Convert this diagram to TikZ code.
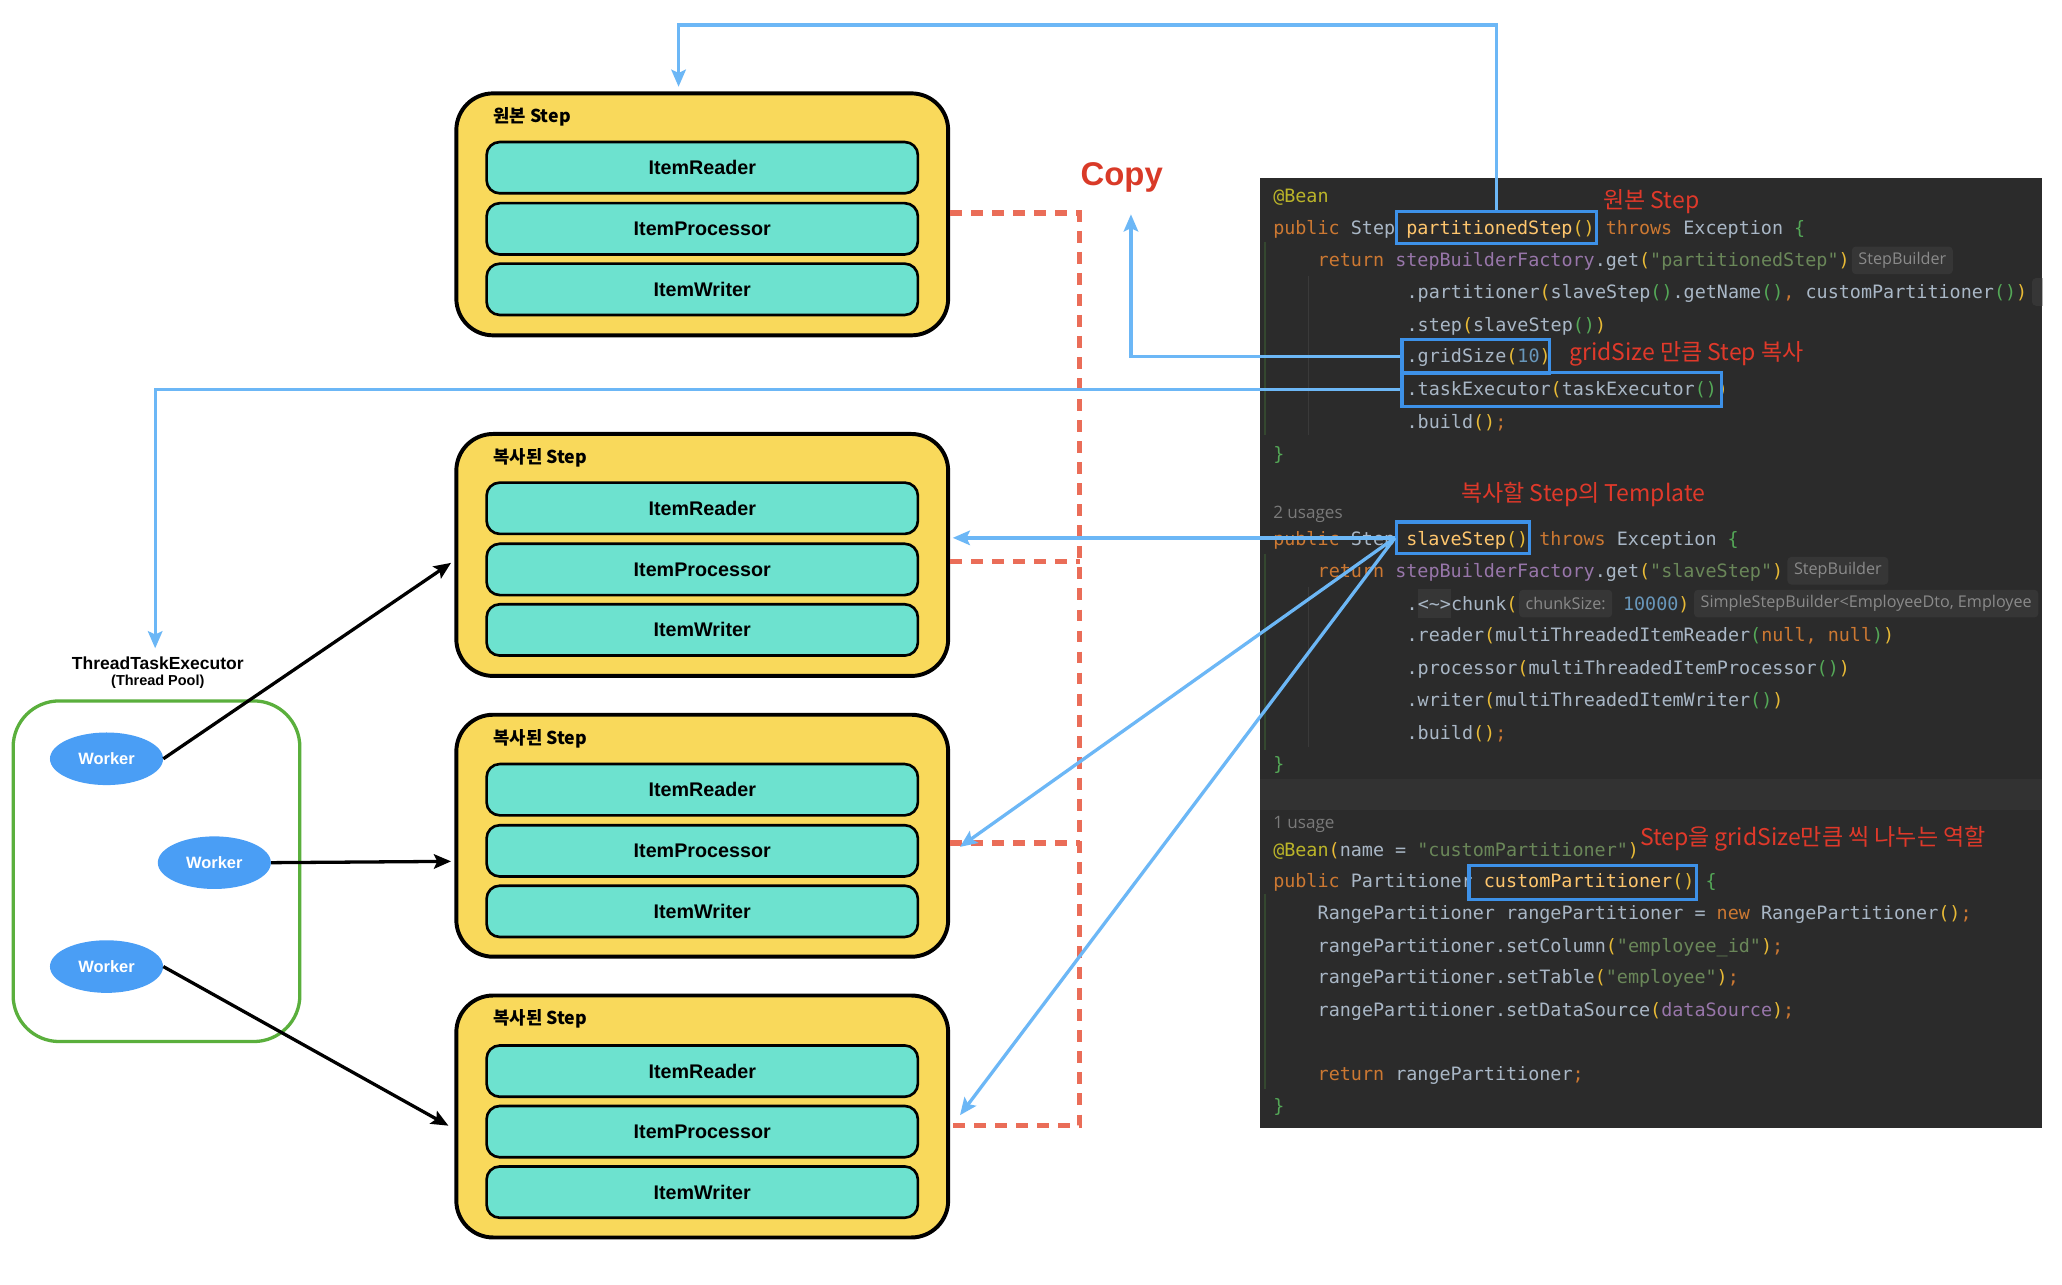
\documentclass[tikz,border=0pt]{standalone}
\usepackage{fontspec}
\setmainfont{Liberation Sans}
\newfontfamily\kr{Noto Sans CJK KR}
\newfontfamily\cf{DejaVu Sans Mono}[Ligatures=TeXOff,WordSpace={1,0,0}]
\newfontfamily\hf{Open Sans}
\usetikzlibrary{arrows.meta,shapes.geometric}

\definecolor{stepyellow}{HTML}{F9D95B}
\definecolor{itemteal}{HTML}{6DE2CF}
\definecolor{workerblue}{HTML}{4A9EF5}
\definecolor{poolgreen}{HTML}{5AAF3C}
\definecolor{lineblue}{HTML}{6CB7F6}
\definecolor{hlblue}{HTML}{3D91E8}
\definecolor{annored}{HTML}{E0392A}
\definecolor{copyred}{HTML}{D93A28}
\definecolor{dashred}{HTML}{EA6D58}
\definecolor{panelbg}{HTML}{2B2B2B}
\definecolor{panelband}{HTML}{323232}
\definecolor{cdef}{HTML}{A9B7C6}
\definecolor{ckw}{HTML}{CC7832}
\definecolor{cstr}{HTML}{6A8759}
\definecolor{cnum}{HTML}{6897BB}
\definecolor{cmeth}{HTML}{FFC66D}
\definecolor{cann}{HTML}{BBB529}
\definecolor{cfld}{HTML}{9876AA}
\definecolor{cpy}{HTML}{E8BA36}
\definecolor{cpg}{HTML}{54A857}
\definecolor{hintbg}{HTML}{363636}
\definecolor{hintfg}{HTML}{8A8A8A}
\definecolor{usagefg}{HTML}{7A7A7A}
\definecolor{guidegreen}{HTML}{34472F}
\definecolor{guidegrey}{HTML}{3A3A3A}

\newcommand{\ccK}[1]{\textcolor{ckw}{#1}}
\newcommand{\ccS}[1]{\textcolor{cstr}{#1}}
\newcommand{\ccN}[1]{\textcolor{cnum}{#1}}
\newcommand{\ccM}[1]{\textcolor{cmeth}{#1}}
\newcommand{\ccA}[1]{\textcolor{cann}{#1}}
\newcommand{\ccP}[1]{\textcolor{cfld}{#1}}
\newcommand{\ccY}[1]{\textcolor{cpy}{#1}}
\newcommand{\ccG}[1]{\textcolor{cpg}{#1}}

\begin{document}
\begin{tikzpicture}[x=1pt,y=-1pt,
  stepbox/.style={draw=black, line width=3pt, fill=stepyellow, rounded corners=28pt, minimum width=374pt, minimum height=184pt, inner sep=0},
  itembox/.style={draw=black, line width=2pt, fill=itemteal, rounded corners=10pt, minimum width=328pt, minimum height=39pt, inner sep=0, font=\bfseries\fontsize{15}{18}\selectfont},
  steplabel/.style={anchor=west, inner sep=0, font=\kr\bfseries\fontsize{13.5}{16}\selectfont},
  poolbox/.style={draw=poolgreen, line width=2.5pt, rounded corners=35pt, minimum width=218pt, minimum height=259pt, inner sep=0},
  worker/.style={ellipse, fill=workerblue, minimum width=86pt, minimum height=40pt, inner sep=0, text=white, font=\bfseries\fontsize{12.5}{15}\selectfont},
  codeline/.style={anchor=base west, inner sep=0, text=cdef, font=\cf\fontsize{14}{16}\selectfont},
  hint/.style={anchor=west, fill=hintbg, rounded corners=3pt, text=hintfg, minimum height=21pt, inner xsep=5pt, inner ysep=0, font=\hf\fontsize{12.3}{15}\selectfont},
  usage/.style={anchor=base west, inner sep=0, text=usagefg, font=\hf\fontsize{13}{15}\selectfont},
  hl/.style={draw=hlblue, line width=2.5pt, inner sep=0},
  redtxt/.style={anchor=west, inner sep=0, text=annored, font=\kr\fontsize{17.5}{20}\selectfont},
  blueline/.style={draw=lineblue, line width=2.5pt},
  bluearrow/.style={blueline, -{Stealth[length=13pt,width=11pt,inset=2.5pt]}},
  blackarrow/.style={draw=black, line width=2.5pt, -{Stealth[length=13pt,width=11pt,inset=2.5pt]}},
  reddash/.style={draw=dashred, line width=4pt, dash pattern=on 9pt off 7pt}
]
\useasboundingbox (0,0) rectangle (1568,976.4);
\fill[white] (0,0) rectangle (1568,976.4);

% ---------- code panel ----------
\fill[panelbg] (958,135) rectangle (1553,858);
\fill[panelband] (958,592) rectangle (1553,616);
\draw[guidegreen, line width=1pt] (962,184) -- (962,331);
\draw[guidegrey, line width=1pt] (995,210) -- (995,331);
\draw[guidegreen, line width=1pt] (962,421) -- (962,570);
\draw[guidegrey, line width=1pt] (995,446) -- (995,568);
\draw[guidegreen, line width=1pt] (962,680) -- (962,828);

\begin{scope}
\clip (958,135) rectangle (1553,858);
\node[hint] (h1) at (1408,198) {StepBuilder};
\node[hint, minimum width=30pt] (h2) at (1545,222) {};
\node[hint] (h3) at (1359,434) {StepBuilder};
\node[hint] (h4) at (1155,459) {chunkSize:};
\node[hint] (h5) at (1288,459) {SimpleStepBuilder<EmployeeDto, Employee};
\end{scope}

\node[codeline] (l1) at (968,154) {\ccA{@Bean}};
\node[codeline] (l2) at (968,178) {\ccK{public} Step \ccM{partitionedStep}\ccY{()} \ccK{throws} Exception \ccG{\{}};
\node[codeline] (l3) at (1001.8,203) {\ccK{return} \ccP{stepBuilderFactory}.get\ccY{(}\ccS{"partitionedStep"}\ccY{)}};
\node[codeline] (l4) at (1069.4,227) {.partitioner\ccY{(}slaveStep\ccG{()}.getName\ccG{()}\ccK{,} customPartitioner\ccG{()}\ccY{)}};
\node[codeline] (l5) at (1069.4,252) {.step\ccY{(}slaveStep\ccG{()}\ccY{)}};
\node[codeline] (l6) at (1069.4,276) {.gridSize\ccY{(}\ccN{10}\ccY{)}};
\node[codeline] (l7) at (1069.4,301) {.taskExecutor\ccY{(}taskExecutor\ccG{()}\ccY{)}};
\node[codeline] (l8) at (1069.4,326) {.build\ccY{()}\ccK{;}};
\node[codeline] (l9) at (968,350) {\ccG{\}}};

\node[usage] (u1) at (968,394) {2 usages};
\node[codeline] (l10) at (968,415) {\ccK{public} Step \ccM{slaveStep}\ccY{()} \ccK{throws} Exception \ccG{\{}};
\node[codeline] (l11) at (1001.8,439) {\ccK{return} \ccP{stepBuilderFactory}.get\ccY{(}\ccS{"slaveStep"}\ccY{)}};
\node[codeline] (l12a) at (1069.4,464) {.};
\node[fill=hintbg, minimum width=25pt, minimum height=22pt, inner sep=0, anchor=west] (fold) at (1077.9,459) {};
\node[codeline] (l12b) at (1077.9,464) {<\textasciitilde>};
\node[codeline] (l12c) at (1103.2,464) {chunk\ccY{(}};
\node[codeline] (l12d) at (1234,464) {\ccN{10000}\ccY{)}};
\node[codeline] (l13) at (1069.4,488) {.reader\ccY{(}multiThreadedItemReader\ccG{(}\ccK{null}\ccK{,} \ccK{null}\ccG{)}\ccY{)}};
\node[codeline] (l14) at (1069.4,513) {.processor\ccY{(}multiThreadedItemProcessor\ccG{()}\ccY{)}};
\node[codeline] (l15) at (1069.4,537) {.writer\ccY{(}multiThreadedItemWriter\ccG{()}\ccY{)}};
\node[codeline] (l16) at (1069.4,562) {.build\ccY{()}\ccK{;}};
\node[codeline] (l17) at (968,586) {\ccG{\}}};

\node[usage] (u2) at (968,630) {1 usage};
\node[codeline] (l18) at (968,651) {\ccA{@Bean}\ccY{(}name = \ccS{"customPartitioner"}\ccY{)}};
\node[codeline] (l19) at (968,675) {\ccK{public} Partitioner \ccM{customPartitioner}\ccY{()} \ccG{\{}};
\node[codeline] (l20) at (1001.8,699) {RangePartitioner rangePartitioner = \ccK{new} RangePartitioner\ccY{()}\ccK{;}};
\node[codeline] (l21) at (1001.8,724) {rangePartitioner.setColumn\ccY{(}\ccS{"employee\_id"}\ccY{)}\ccK{;}};
\node[codeline] (l22) at (1001.8,748) {rangePartitioner.setTable\ccY{(}\ccS{"employee"}\ccY{)}\ccK{;}};
\node[codeline] (l23) at (1001.8,773) {rangePartitioner.setDataSource\ccY{(}\ccP{dataSource}\ccY{)}\ccK{;}};
\node[codeline] (l24) at (1001.8,822) {\ccK{return} rangePartitioner\ccK{;}};
\node[codeline] (l25) at (968,846) {\ccG{\}}};

% highlight boxes
\node[hl, minimum width=152pt, minimum height=24pt] (pbox) at (1138,173) {};
\node[hl, minimum width=112pt, minimum height=26pt] (gbox) at (1122,271) {};
\node[hl, minimum width=243pt, minimum height=26pt] (tbox) at (1187.5,296) {};
\node[hl, minimum width=101pt, minimum height=24pt] (sbox) at (1112.5,409) {};
\node[hl, minimum width=173pt, minimum height=26pt] (cbox) at (1203.5,671) {};

% annotations
\node[redtxt] (a1) at (1219,153) {원본 Step};
\node[redtxt] (a2) at (1193,269) {gridSize 만큼 Step 복사};
\node[redtxt] (a3) at (1111,376) {복사할 Step의 Template};
\node[redtxt] (a4) at (1247,638) {Step을 gridSize만큼 씩 나누는 역할};

% ---------- steps ----------
\node[stepbox] (step1) at (534,163) {};
\node[steplabel] (lab1) at (375,89) {원본 Step};
\node[itembox] (r1) at (534,127.5) {ItemReader};
\node[itembox] (p1) at (534,174) {ItemProcessor};
\node[itembox] (w1b) at (534,220) {ItemWriter};

\node[stepbox] (step2) at (534,422) {};
\node[steplabel] (lab2) at (375,348) {복사된 Step};
\node[itembox] (r2) at (534,386.5) {ItemReader};
\node[itembox] (p2) at (534,433) {ItemProcessor};
\node[itembox] (w2b) at (534,479) {ItemWriter};

\node[stepbox] (step3) at (534,635.5) {};
\node[steplabel] (lab3) at (375,562) {복사된 Step};
\node[itembox] (r3) at (534,600.5) {ItemReader};
\node[itembox] (p3) at (534,647) {ItemProcessor};
\node[itembox] (w3b) at (534,693) {ItemWriter};

\node[stepbox] (step4) at (534,849) {};
\node[steplabel] (lab4) at (375,775) {복사된 Step};
\node[itembox] (r4) at (534,814.5) {ItemReader};
\node[itembox] (p4) at (534,860.5) {ItemProcessor};
\node[itembox] (w4b) at (534,906.5) {ItemWriter};

% ---------- thread pool ----------
\node[poolbox] (pool) at (119,662.5) {};
\node[worker] (wk1) at (81,577) {Worker};
\node[worker] (wk2) at (163,656) {Worker};
\node[worker] (wk3) at (81,735) {Worker};
\node[inner sep=0, font=\bfseries\fontsize{13.3}{15}\selectfont] (exec) at (120,504) {ThreadTaskExecutor};
\node[inner sep=0, font=\bfseries\fontsize{11}{13}\selectfont] (execsub) at (120,518.5) {(Thread Pool)};

\node[inner sep=0, text=copyred, font=\bfseries\fontsize{25}{28}\selectfont] (copy) at (853,135) {Copy};

% ---------- dashed copy lines ----------
\coordinate (d1) at (821,162);
\coordinate (d2) at (821,427);
\coordinate (d3) at (821,641);
\coordinate (d4) at (821,856);
\draw[reddash] (d1 -| step1.east) -- (d1) -- (d4) -- (d4 -| step4.east);
\draw[reddash] (d2 -| step2.east) -- (d2);
\draw[reddash] (d3 -| step3.east) -- (d3);

% ---------- blue connectors ----------
\coordinate (top1) at (1138,19);
\coordinate (tip1) at (516,66);
\coordinate (tipcopy) at (860,163);
\coordinate (tipexec) at (118,493);
\coordinate (tip5) at (730,644);
\coordinate (tip6) at (730,848);
\draw[bluearrow] (pbox.north) -- (top1) -| (tip1);
\draw[bluearrow] (gbox.west) -| (tipcopy);
\draw[bluearrow] (tbox.west) -| (tipexec);
\draw[bluearrow, shorten >=2pt] (sbox.west) -- (sbox.west -| step2.east);
\draw[bluearrow] (sbox.west) -- (tip5);
\draw[bluearrow] (sbox.west) -- (tip6);

% ---------- worker arrows ----------
\coordinate (tw1) at (343,428);
\coordinate (tw2) at (343,655);
\coordinate (tw3) at (341,856);
\draw[blackarrow] (wk1.east) -- (tw1);
\draw[blackarrow] (wk2.east) -- (tw2);
\draw[blackarrow] (wk3.east) -- (tw3);
\end{tikzpicture}
\end{document}
